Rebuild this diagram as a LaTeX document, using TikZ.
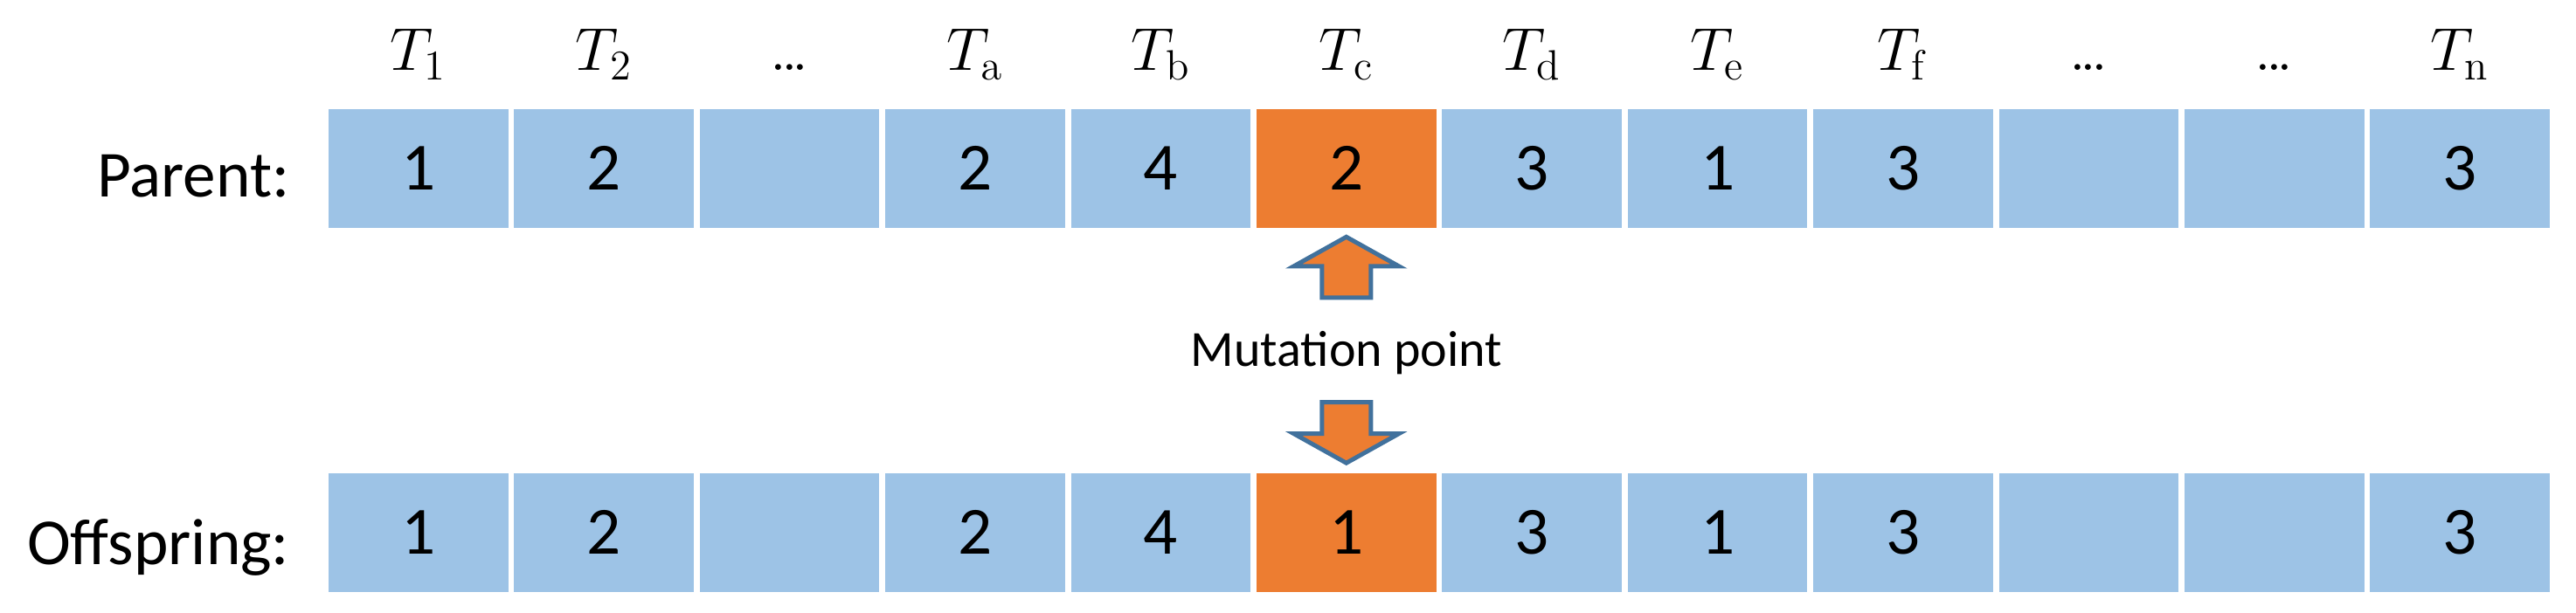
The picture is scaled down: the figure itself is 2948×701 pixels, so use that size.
\RequirePackage{fix-cm}
\documentclass[tikz,border=0pt]{standalone}
\usepackage[no-math]{fontspec}
\setmainfont{Carlito}
\definecolor{cellblue}{HTML}{9DC3E6}
\definecolor{cellorange}{HTML}{ED7D31}
\definecolor{arrowedge}{HTML}{41719C}
\newcommand{\tightdots}{.\kern-1.6pt.\kern-1.6pt.}
\begin{document}
\begin{tikzpicture}[x=0.25pt,y=0.25pt,
  cell/.style={fill=cellblue, minimum width=51.375pt, minimum height=34pt, inner sep=0pt,
    font=\fontsize{19.3}{23}\selectfont, anchor=center},
  hot/.style={cell, fill=cellorange},
  head/.style={font=\fontsize{17.3}{20}\selectfont, anchor=base, inner sep=0pt},
  rowlabel/.style={font=\fontsize{18.8}{22}\selectfont, anchor=base east, inner sep=0pt},
  mutlabel/.style={font=\fontsize{14.5}{17}\selectfont, anchor=base, inner sep=0pt},
  mutarrow/.style={fill=cellorange, draw=arrowedge, line width=1.25pt, miter limit=10}]
\useasboundingbox (0,0) rectangle (2948,701);
\foreach \i/\st/\pv/\ov/\lab in {
  1/cell/1/1/{$T_1$},
  2/cell/2/2/{$T_2$},
  3/cell/{}/{}/{$\tightdots$},
  4/cell/2/2/{$T_\mathrm{a}$},
  5/cell/4/4/{$T_\mathrm{b}$},
  6/hot/2/1/{$T_\mathrm{c}$},
  7/cell/3/3/{$T_\mathrm{d}$},
  8/cell/1/1/{$T_\mathrm{e}$},
  9/cell/3/3/{$T_\mathrm{f}$},
  10/cell/{}/{}/{$\tightdots$},
  11/cell/{}/{}/{$\tightdots$},
  12/cell/3/3/{$T_\mathrm{n}$}}{
  \pgfmathsetmacro\cx{478.75+212.4*(\i-1)}
  \node[\st] (p\i) at (\cx,508.5) {\pv};
  \node[\st] (o\i) at (\cx,91.5) {\ov};
  \node[head] (t\i) at (\cx,620.3) {\lab};
}
\node[rowlabel] (parent) at (332,476) {Parent:};
\node[rowlabel] (offspring) at (332,54.3) {Offspring:};
\node[mutlabel] (mut) at (1541,282) {Mutation point};
\path (p6.south) ++(0,-10) coordinate (ua);
\path (o6.north) ++(0,10.5) coordinate (da);
\draw[mutarrow] (ua) -- ++(60,-33.5) -- ++(-32,0) -- ++(0,-36) -- ++(-56,0) -- ++(0,36) -- ++(-32,0) -- cycle;
\draw[mutarrow] (da) -- ++(60,33.5) -- ++(-32,0) -- ++(0,36) -- ++(-56,0) -- ++(0,-36) -- ++(-32,0) -- cycle;
\end{tikzpicture}
\end{document}
